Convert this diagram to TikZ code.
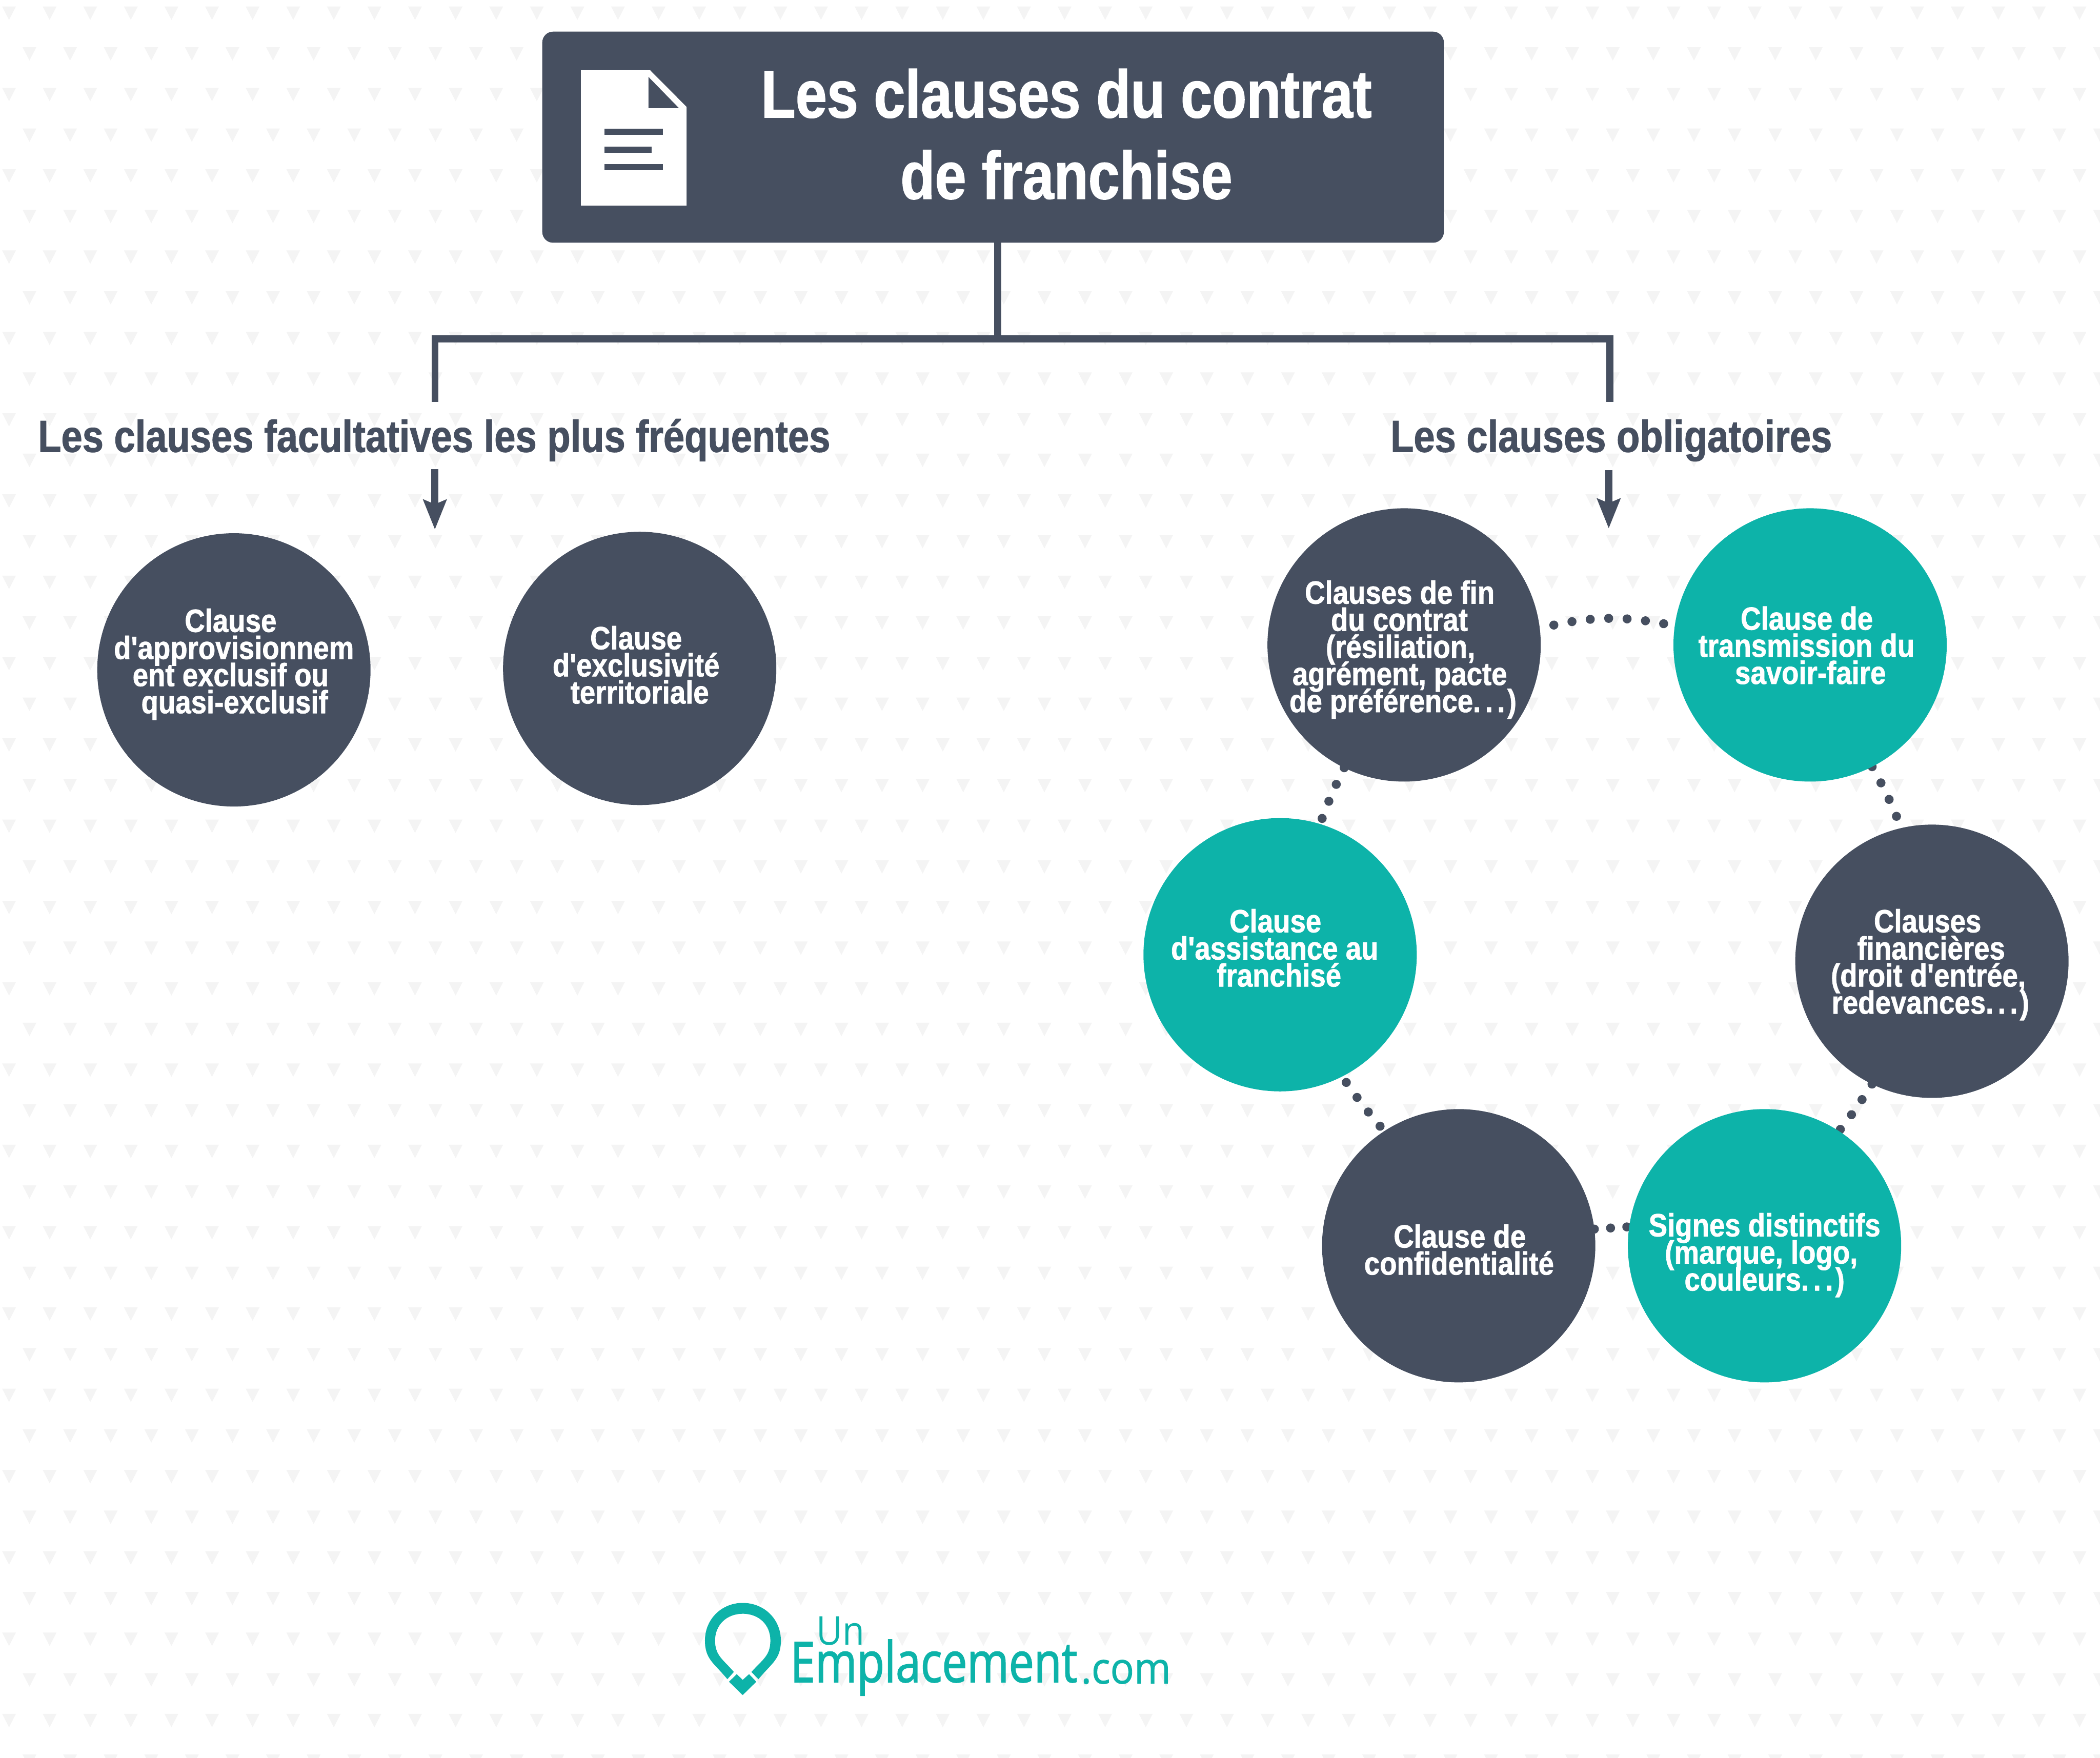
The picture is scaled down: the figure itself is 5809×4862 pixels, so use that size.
\documentclass[tikz,border=0pt]{standalone}
\usepackage{fontspec}
\usetikzlibrary{arrows.meta}
\newfontfamily\rcfont[FakeStretch=0.87,FakeBold=1.2]{Liberation Sans}
\newfontfamily\headfont[FakeStretch=0.848,FakeBold=1.2]{Liberation Sans}
\newfontfamily\titlefont[FakeStretch=0.838,FakeBold=1.2]{Liberation Sans}
\newfontfamily\logoE[FakeStretch=0.80,FakeBold=1.5]{Open Sans}
\newfontfamily\logoU[FakeStretch=0.90]{Open Sans}
\newfontfamily\logoC[FakeStretch=0.91,FakeBold=1]{Open Sans}
\definecolor{dark}{HTML}{464F60}
\definecolor{teal}{HTML}{0DB3A9}
\definecolor{tri}{HTML}{F4F4F4}
\pgfdeclarelayer{back}
\pgfsetlayers{back,main}
\newcommand{\tdots}{.\kern12pt.\kern12pt.\kern6pt}
\newcommand{\circletext}[2]{\raisebox{#1pt}[0pt][0pt]{\makebox[0pt]{\parbox[t]{1500pt}{\centering\rcfont\bfseries\fontsize{89}{75}\selectfont\lineskiplimit=-3000pt #2}}}}
\newcommand{\titletext}[2]{\raisebox{#1pt}[0pt][0pt]{\makebox[0pt]{\parbox[t]{3000pt}{\centering\titlefont\bfseries\fontsize{186}{225}\selectfont\lineskiplimit=-3000pt #2}}}}
\tikzset{
  disc/.style={circle,minimum size=756pt,inner sep=0pt,outer sep=0pt,text=white},
  darkdisc/.style={disc,fill=dark},
  tealdisc/.style={disc,fill=teal},
  conn/.style={draw=dark,line width=19pt,line join=miter},
  arrowline/.style={draw=dark,line width=20pt,-{Stealth[length=82pt,width=63pt,inset=12pt]}},
  dotlink/.style={draw=dark,line width=25pt,line cap=round,dash pattern=on 0.01pt off 51pt},
  heading/.style={anchor=base,inner sep=0pt,text=dark,font=\headfont\bfseries\fontsize{124}{124}\selectfont},
  logotext/.style={anchor=base west,inner sep=0pt,text=teal}
}
\begin{document}
\begin{tikzpicture}[x=1pt,y=-1pt]
\useasboundingbox (0,0) rectangle (5809,4862);
\begin{pgfonlayer}{back}
\fill[white] (0,0) rectangle (5809,4862);
\fill[tri] \foreach \r in {0,2,...,42}{\foreach \c in {0,...,51}{
  ({6+112.3*\c},{18+112.45*\r}) -- ++(38,0) -- ++(-19,37) -- cycle}};
\fill[tri] \foreach \r in {1,3,...,43}{\foreach \c in {0,...,51}{
  ({62.5+112.3*\c},{18+112.45*\r}) -- ++(38,0) -- ++(-19,37) -- cycle}};
\end{pgfonlayer}

% header
\node[fill=dark,rounded corners=30pt,minimum width=2494pt,minimum height=584pt,inner sep=0pt,outer sep=0pt,text=white] (header) at (2747,379.5)
  {\titletext{54.5}{\hspace*{406pt}Les clauses du contrat\\\hspace*{406pt}de franchise}};
% document icon
\fill[white] (1607,194) -- (1798,194) -- (1899,295.5) -- (1899,569) -- (1607,569) -- cycle;
\fill[dark] (1794,213) -- (1794,299) -- (1878,299) -- cycle;
\fill[dark] (1672,356) rectangle (1834,373);
\fill[dark] (1672,405) rectangle (1802,422);
\fill[dark] (1672,454) rectangle (1834,471);

% headings
\node[heading] (hleft) at (1201,1250) {Les clauses facultatives les plus fréquentes};
\node[heading] (hright) at (4457,1250) {Les clauses obligatoires};

% tree connectors
\coordinate (trunk) at (2760,937.5);
\coordinate (busL) at (1203,937.5);
\coordinate (busR) at (4453,937.5);
\coordinate (dropL) at (1203,1112);
\coordinate (dropR) at (4453,1112);
\draw[conn] (header.south -| trunk) -- (trunk);
\draw[conn] (dropL) -- (busL) -- (busR) -- (dropR);
\coordinate (arrowLa) at (1203,1297);
\coordinate (arrowLb) at (1203,1465);
\coordinate (arrowRa) at (4450,1300);
\coordinate (arrowRb) at (4450,1462);
\draw[arrowline] (arrowLa) -- (arrowLb);
\draw[arrowline] (arrowRa) -- (arrowRb);

% circles
\node[darkdisc] (appro) at (647,1853) {\circletext{105}{\hspace*{-18pt}Clause\\d'approvisionnem\\\hspace*{-18pt}ent exclusif ou\\\hspace*{4pt}quasi-exclusif}};
\node[darkdisc] (exclu) at (1769.5,1849) {\circletext{53}{\hspace*{-20pt}Clause\\\hspace*{-20pt}d'exclusivité\\territoriale}};
\node[darkdisc] (fin) at (3884,1784) {\circletext{114}{\hspace*{-24pt}Clauses de fin\\\hspace*{-26pt}du contrat\\\hspace*{-20pt}(résiliation,\\\hspace*{-24pt}agrément, pacte\\\hspace*{-6pt}de préférence\tdots)}};
\node[tealdisc] (trans) at (5007,1784) {\circletext{42}{\hspace*{-18pt}Clause de\\\hspace*{-20pt}transmission du\\\hspace*{2pt}savoir-faire}};
\node[darkdisc] (finan) at (5344,2659) {\circletext{80}{\hspace*{-24pt}Clauses\\\hspace*{-4pt}financières\\\hspace*{-20pt}(droit d'entrée,\\\hspace*{-8pt}redevances\tdots)}};
\node[tealdisc] (signes) at (4881,3446) {\circletext{26}{Signes distinctifs\\\hspace*{-18pt}(marque, logo,\\couleurs\tdots)}};
\node[darkdisc] (confi) at (4035,3446) {\circletext{-5}{\hspace*{6pt}Clause de\\\hspace*{2pt}confidentialité}};
\node[tealdisc] (assist) at (3541,2641) {\circletext{62}{\hspace*{-26pt}Clause\\\hspace*{-30pt}d'assistance au\\\hspace*{-6pt}franchisé}};

% dotted links
\begin{pgfonlayer}{back}
\draw[dotlink,dash phase=11pt] (fin.7.3) to[bend left=12.7] (trans.172.7);
\draw[dotlink] (trans.297.3) to[bend left=4] (finan.103.4);
\draw[dotlink] (finan.244.2) to[bend left=3] (signes.57.9);
\draw[dotlink,dash pattern=on 0.01pt off 45pt] (confi.7.5) -- (signes.172.6);
\draw[dotlink,dash phase=31pt] (assist.297.2) to[bend right=3] (confi.123.9);
\draw[dotlink] (fin.244.5) to[bend right=3] (assist.73.4);
\end{pgfonlayer}

% logo
\fill[teal,even odd rule] (2012,4645) .. controls (1975,4600) and (1950,4590) .. (1950,4538)
  .. controls (1950,4480) and (1995,4434) .. (2054.4,4434)
  .. controls (2115,4434) and (2160,4480) .. (2160,4538)
  .. controls (2160,4590) and (2135,4600) .. (2098,4645)
  -- (2078.5,4625) .. controls (2110,4590) and (2131,4580) .. (2131,4538)
  .. controls (2131,4495) and (2100,4464) .. (2054.4,4464)
  .. controls (2010,4464) and (1978,4495) .. (1978,4538)
  .. controls (1978,4580) and (2000,4590) .. (2030,4625) -- cycle;
\fill[teal] (2054.4,4689) -- (2016.5,4652) -- (2038,4631) -- (2054.4,4647) -- (2072,4631) -- (2092,4652) -- cycle;
\node[logotext,font=\logoU\fontsize{110}{110}\selectfont] (logoun) at (2258,4550) {Un};
\node[logotext,font=\logoE\fontsize{155}{155}\selectfont] (logoemp) at (2186,4653) {Emplacement};
\node[logotext,font=\logoC\fontsize{120}{120}\selectfont] (logocom) at (2990,4657) {.com};
\end{tikzpicture}
\end{document}
